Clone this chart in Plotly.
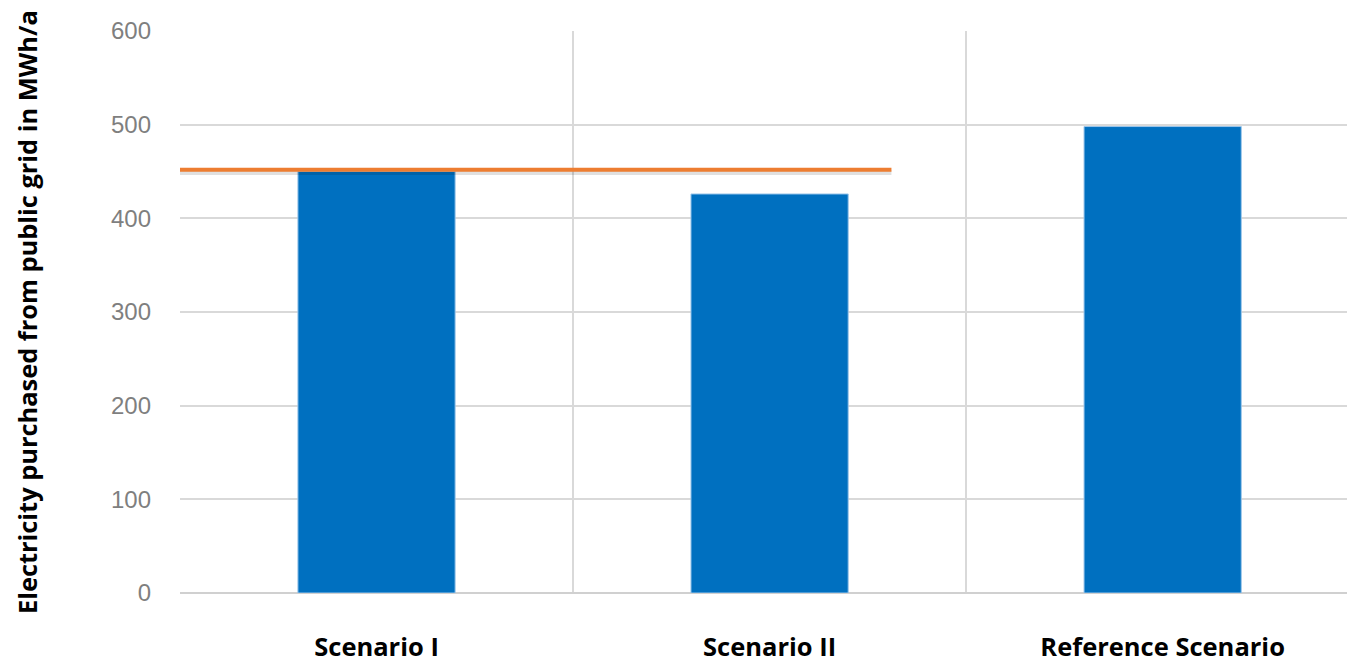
import plotly.graph_objects as go

categories = ["Scenario I", "Scenario II", "Reference Scenario"]
values = [450, 426, 498]
limit_value = 452
y_ticks = [0, 100, 200, 300, 400, 500, 600]
y_title = "Electricity purchased from public grid in MWh/a"

fig = go.Figure()
fig.add_trace(go.Bar(
    x=categories, y=values, width=0.4,
    marker=dict(color="#0070C0", line=dict(color="#9cc6ea", width=1)),
    showlegend=False, hoverinfo="skip",
))

# soft shadow under the orange line
fig.add_shape(type="line", xref="x", yref="y",
              x0=-0.52, x1=1.31, y0=limit_value - 3, y1=limit_value - 3,
              line=dict(color="rgba(0,0,0,0.12)", width=5))
fig.add_shape(type="line", xref="x", yref="y",
              x0=-0.52, x1=1.31, y0=limit_value, y1=limit_value,
              line=dict(color="#ED7D31", width=4))

fig.add_annotation(
    text=y_title, xref="paper", yref="paper",
    x=-0.1311, y=0.5, xanchor="center", yanchor="middle",
    textangle=-90, showarrow=False,
    font=dict(family="Open Sans", size=25.4, color="black", weight="bold"),
)

fig.update_layout(
    width=1347, height=661,
    margin=dict(l=180, r=0, t=31, b=68, autoexpand=False),
    plot_bgcolor="white", paper_bgcolor="white",
)
fig.update_xaxes(
    range=[-0.5, 2.469], tickson="boundaries", ticks="",
    showgrid=True, gridcolor="#d9d9d9", gridwidth=1.5,
    showline=False, zeroline=False, automargin=False,
    tickfont=dict(family="Open Sans", size=25.5, color="black", weight="bold"),
    ticklabelstandoff=36,
)
fig.update_yaxes(
    range=[0, 600], tickvals=y_ticks, ticks="",
    showgrid=True, gridcolor="#d9d9d9", gridwidth=1.5,
    zeroline=True, zerolinecolor="#d0d0d0", zerolinewidth=1.5,
    showline=False, automargin=False,
    tickfont=dict(family="Liberation Sans", size=24, color="#7f7f7f"),
    ticklabelstandoff=28,
)

fig.write_html("out.html")
